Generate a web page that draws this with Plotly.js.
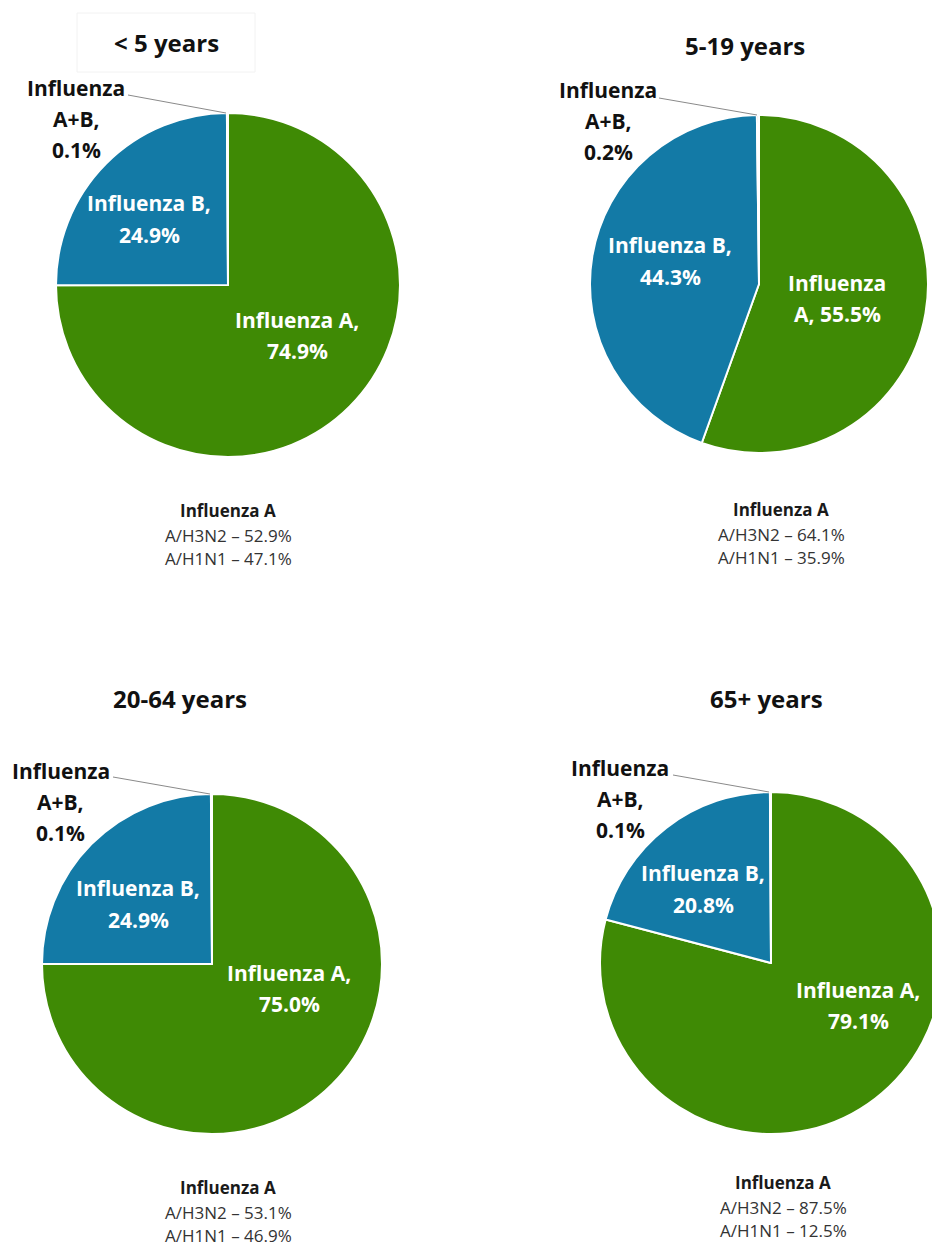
<!DOCTYPE html>
<html>
<head>
<meta charset="utf-8">
<script src="https://cdn.plot.ly/plotly-3.0.1.min.js"></script>
<style>
  html, body { margin: 0; padding: 0; overflow: hidden; background: #ffffff; }
  #chart { width: 950px; height: 1247px; }
</style>
</head>
<body>
<div id="chart"></div>
<script>
// ---------------- DATA ----------------
const ageGroups   = ['< 5 years', '5-19 years', '20-64 years', '65+ years'];
const sliceLabels = ['Influenza A', 'Influenza B', 'Influenza A+B'];
const influenzaA  = [74.9, 55.5, 75.0, 79.1];
const influenzaB  = [24.9, 44.3, 24.9, 20.8];
const influenzaAB = [0.1, 0.2, 0.1, 0.1];
const subtypeTitle = 'Influenza A';
const subtypeNames = ['A/H3N2', 'A/H1N1'];
const h3n2 = [52.9, 64.1, 53.1, 87.5];
const h1n1 = [47.1, 35.9, 46.9, 12.5];

// ---------------- LAYOUT / STYLE ----------------
const W = 950, H = 1247;
const pieGeom = [
  {cx: 228, cy: 285, r: 172},
  {cx: 759, cy: 284, r: 169},
  {cx: 212, cy: 964, r: 170},
  {cx: 771, cy: 963, r: 171}
];
const titlePos   = [[166, 43], [745, 45], [180, 698], [766, 699]];
const notePos    = [[228, 510], [781, 509], [228, 1187], [783, 1182]];
const bLabelPos  = [[149, 203], [670, 245], [138, 888], [703, 873]];
const aLabelPos  = [[297, 320], [837, 283], [289, 973], [858, 990]];
const abLabelPos = [[76, 88], [608, 90], [61, 771], [620, 768]];
const leaderFrom = [[128, 95], [659, 98], [113, 777], [673, 775]];
const aWrap = ['comma', 'split', 'comma', 'comma'];

const GREEN = '#3f8a05';
const BLUE  = '#137aa6';
const ABCOL = '#8c8c8c';
const FONT  = 'Open Sans, Lato, sans-serif';

const px = x => x / W;
const py = y => 1 - y / H;
const pct = v => v.toFixed(1) + '%';

function wrapLabel(name, value, mode) {
  const words = name.split(' ');
  if (mode === 'split') return [words[0], words.slice(1).join(' ') + ', ' + pct(value)];
  if (mode === 'stack') return [words[0], words.slice(1).join(' ') + ',', pct(value)];
  return [name + ',', pct(value)];
}

const traces = [];
const annotations = [];
const shapes = [];

function addLines(lines, pos, step, font) {
  lines.forEach((t, k) => {
    annotations.push({
      xref: 'paper', yref: 'paper',
      x: px(pos[0]), y: py(pos[1] + k * step),
      xanchor: 'center', yanchor: 'middle',
      text: t, showarrow: false, font: font
    });
  });
}

ageGroups.forEach((g, i) => {
  const geo = pieGeom[i];
  traces.push({
    type: 'pie',
    labels: sliceLabels,
    values: [influenzaA[i], influenzaB[i], influenzaAB[i]],
    sort: false,
    direction: 'clockwise',
    rotation: 0,
    textinfo: 'none',
    hoverinfo: 'label+percent',
    marker: { colors: [GREEN, BLUE, ABCOL], line: { color: '#ffffff', width: 2 } },
    domain: {
      x: [px(geo.cx - geo.r), px(geo.cx + geo.r)],
      y: [py(geo.cy + geo.r), py(geo.cy - geo.r)]
    },
    showlegend: false
  });

  // title
  addLines([g], titlePos[i], 0, {family: FONT, size: 24, color: '#111111', weight: 'bold'});

  // inside labels
  const inFont = {family: FONT, size: 21, color: '#ffffff', weight: 'bold'};
  addLines(wrapLabel(sliceLabels[1], influenzaB[i], 'comma'), bLabelPos[i], 32, inFont);
  addLines(wrapLabel(sliceLabels[0], influenzaA[i], aWrap[i]), aLabelPos[i], 31, inFont);

  // outside A+B label with leader line
  addLines(wrapLabel(sliceLabels[2], influenzaAB[i], 'stack'), abLabelPos[i], 31,
           {family: FONT, size: 21, color: '#111111', weight: 'bold'});
  shapes.push({
    type: 'line', xref: 'paper', yref: 'paper',
    x0: px(leaderFrom[i][0]), y0: py(leaderFrom[i][1]),
    x1: px(geo.cx - 2), y1: py(geo.cy - geo.r),
    line: {color: '#8a8a8a', width: 1}
  });

  // subtype note
  addLines([subtypeTitle], notePos[i], 0, {family: FONT, size: 17, color: '#1a1a1a', weight: 'bold'});
  addLines([
    subtypeNames[0] + ' \u2013 ' + pct(h3n2[i]),
    subtypeNames[1] + ' \u2013 ' + pct(h1n1[i])
  ], [notePos[i][0], notePos[i][1] + 25], 23, {family: FONT, size: 17, color: '#333333'});
});

// faint box around the first title
shapes.push({
  type: 'rect', xref: 'paper', yref: 'paper',
  x0: px(77), x1: px(255), y0: py(72), y1: py(13),
  line: {color: '#f2f2f2', width: 1}, fillcolor: 'rgba(0,0,0,0)'
});

const layout = {
  width: W, height: H,
  margin: {l: 0, r: 0, t: 0, b: 0},
  paper_bgcolor: '#ffffff',
  plot_bgcolor: '#ffffff',
  showlegend: false,
  annotations: annotations,
  shapes: shapes,
  font: {family: FONT}
};

Plotly.newPlot('chart', traces, layout, {displayModeBar: false, staticPlot: true});
</script>
</body>
</html>
